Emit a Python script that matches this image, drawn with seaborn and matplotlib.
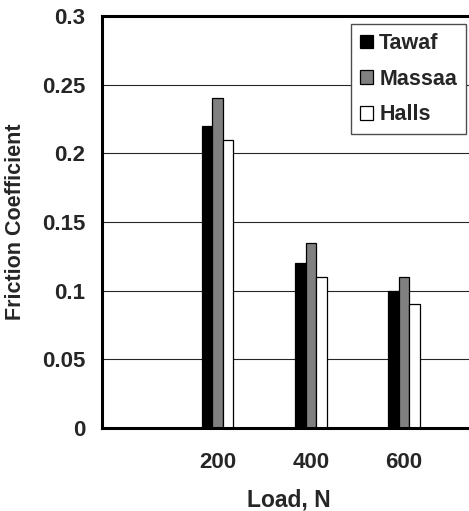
import pandas as pd
import matplotlib
matplotlib.use("Agg")
import matplotlib.pyplot as plt
import seaborn as sns

# data
loads = ["200", "400", "600"]
tawaf = [0.22, 0.12, 0.10]
massaa = [0.24, 0.135, 0.11]
halls = [0.21, 0.11, 0.09]
series = ["Tawaf", "Massaa", "Halls"]
colors = ["#000000", "#808080", "#ffffff"]

df = pd.DataFrame({
    "Load": loads * 3,
    "Friction": tawaf + massaa + halls,
    "Series": [s for s in series for _ in loads],
})

sns.set_style("white")
plt.rcParams["font.family"] = ["Liberation Sans", "DejaVu Sans"]
plt.rcParams["font.weight"] = "bold"

fig = plt.figure(figsize=(4.69, 5.11), dpi=100)
ax = fig.add_axes([0.2175, 0.1624, 0.7825, 0.8063])

sns.barplot(data=df, x="Load", y="Friction", hue="Series", order=loads,
            hue_order=series, palette=colors, width=0.338,
            edgecolor="black", linewidth=0.9, saturation=1, ax=ax)

ax.set_xlim(-1.239, 2.697)
ax.set_ylim(0, 0.3)
ax.set_yticks([0, 0.05, 0.1, 0.15, 0.2, 0.25, 0.3])
ax.set_yticklabels(["0", "0.05", "0.1", "0.15", "0.2", "0.25", "0.3"])
ax.set_axisbelow(True)
ax.yaxis.grid(True, color="0.15", linewidth=0.8)
ax.xaxis.grid(False)

for side in ["left", "top", "bottom"]:
    ax.spines[side].set_visible(True)
    ax.spines[side].set_color("black")
    ax.spines[side].set_linewidth(2.2)
ax.spines["right"].set_visible(False)

ax.tick_params(axis="x", length=0, pad=17, labelsize=16)
ax.tick_params(axis="y", length=0, pad=12, labelsize=16)
for t in ax.get_xticklabels() + ax.get_yticklabels():
    t.set_fontweight("bold")

ax.set_xlabel("Load, N", fontsize=16.5, fontweight="bold")
ax.set_ylabel("Friction Coefficient", fontsize=15.5, fontweight="bold")
ax.xaxis.set_label_coords(0.5095, -0.148)
ax.yaxis.set_label_coords(-0.207, 0.5)

leg = ax.legend(loc="upper right", bbox_to_anchor=(0.992, 0.9806),
                borderaxespad=0, fancybox=False, framealpha=1,
                edgecolor="0.3", prop={"size": 15.5, "weight": "bold"},
                handlelength=0.6, handleheight=0.6, handletextpad=0.3,
                labelspacing=0.68, borderpad=0.42)
leg.get_frame().set_linewidth(1.0)

fig.savefig("out.png", dpi=100)
